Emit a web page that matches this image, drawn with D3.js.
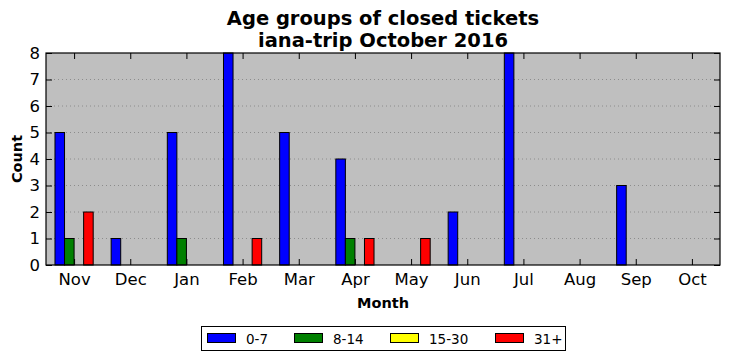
<!DOCTYPE html>
<html><head><meta charset="utf-8">
<script src="https://cdn.jsdelivr.net/npm/d3@7"></script>
<style>body{margin:0;background:#fff}svg{font-family:"DejaVu Sans",sans-serif}</style>
</head><body><svg id="c" width="731" height="361"></svg>
<script>
const months = ["Nov","Dec","Jan","Feb","Mar","Apr","May","Jun","Jul","Aug","Sep","Oct"];
const seriesNames = ["0-7","8-14","15-30","31+"];
const seriesColors = ["#0000ff","#008000","#ffff00","#ff0000"];
const s0_7   = [5,1,5,8,5,4,0,2,8,0,3,0];
const s8_14  = [1,0,1,0,0,1,0,0,0,0,0,0];
const s15_30 = [0,0,0,0,0,0,0,0,0,0,0,0];
const s31    = [2,0,0,1,0,1,1,0,0,0,0,0];
const yTicks = [0,1,2,3,4,5,6,7,8];
const series = [s0_7, s8_14, s15_30, s31];

const svg = d3.select("#c");
const L=46, R=720, T=53, B=265;
const x = d3.scaleLinear().domain([-0.5, 11.5]).range([L, R]);
const y = d3.scaleLinear().domain([0, 8]).range([B, T]);
const bw = 0.17;

svg.append("rect").attr("x",L).attr("y",T).attr("width",R-L).attr("height",B-T).attr("fill","#bfbfbf");
// grid
svg.append("g").selectAll("line").data(yTicks.slice(1,-1)).join("line")
  .attr("x1",L).attr("x2",R).attr("y1",d=>y(d)).attr("y2",d=>y(d))
  .attr("stroke","#8c8c8c").attr("stroke-width",1).attr("stroke-dasharray","1,3");

// bars
series.forEach((vals, k) => {
  svg.append("g").selectAll("rect").data(vals).join("rect")
    .attr("x", (d,i) => x(i + (k-2)*bw))
    .attr("width", x(bw) - x(0))
    .attr("y", d => y(d))
    .attr("height", d => y(0) - y(d))
    .attr("fill", seriesColors[k])
    .attr("stroke","#000").attr("stroke-width",1);
});

// axes
const ax = svg.append("g");
ax.append("g").attr("transform",`translate(0,${B})`)
  .call(d3.axisBottom(x).tickValues(d3.range(12)).tickFormat(i=>months[i]).tickSizeInner(-6).tickSizeOuter(0).tickPadding(8));
ax.append("g").attr("transform",`translate(0,${T})`)
  .call(d3.axisTop(x).tickValues(d3.range(12)).tickFormat("").tickSizeInner(-6).tickSizeOuter(0));
ax.append("g").attr("transform",`translate(${L},0)`)
  .call(d3.axisLeft(y).tickValues(yTicks).tickFormat(d3.format("d")).tickSizeInner(-6).tickSizeOuter(0).tickPadding(6));
ax.append("g").attr("transform",`translate(${R},0)`)
  .call(d3.axisRight(y).tickValues(yTicks).tickFormat("").tickSizeInner(-6).tickSizeOuter(0));
ax.selectAll(".domain").remove();
ax.selectAll("text").attr("font-size",16.5).attr("font-family","DejaVu Sans").attr("fill","#000");
ax.selectAll(".tick line").attr("stroke","#000");
svg.append("rect").attr("x",L).attr("y",T).attr("width",R-L).attr("height",B-T)
  .attr("fill","none").attr("stroke","#000").attr("stroke-width",1.2);

// titles
svg.append("text").attr("x",(L+R)/2).attr("y",25).attr("text-anchor","middle")
  .attr("font-size",19.5).attr("font-weight","bold").text("Age groups of closed tickets");
svg.append("text").attr("x",(L+R)/2).attr("y",47).attr("text-anchor","middle")
  .attr("font-size",19.5).attr("font-weight","bold").text("iana-trip October 2016");
svg.append("text").attr("x",(L+R)/2).attr("y",308).attr("text-anchor","middle")
  .attr("font-size",14.5).attr("font-weight","bold").text("Month");
svg.append("text").attr("transform",`translate(22,${(T+B)/2}) rotate(-90)`).attr("text-anchor","middle")
  .attr("font-size",14.5).attr("font-weight","bold").text("Count");

// legend
const lg = svg.append("g");
lg.append("rect").attr("x",201.5).attr("y",326.5).attr("width",364).attr("height",24)
  .attr("fill","#fff").attr("stroke","#000").attr("stroke-width",1);
const lx = [207, 294, 390, 495];
seriesNames.forEach((n,k)=>{
  lg.append("rect").attr("x",lx[k]+0.5).attr("y",333.5).attr("width",28).attr("height",9)
    .attr("fill",seriesColors[k]).attr("stroke","#000");
  lg.append("text").attr("x",lx[k]+39).attr("y",343.5).attr("font-size",13.5).text(n);
});
</script></body></html>
